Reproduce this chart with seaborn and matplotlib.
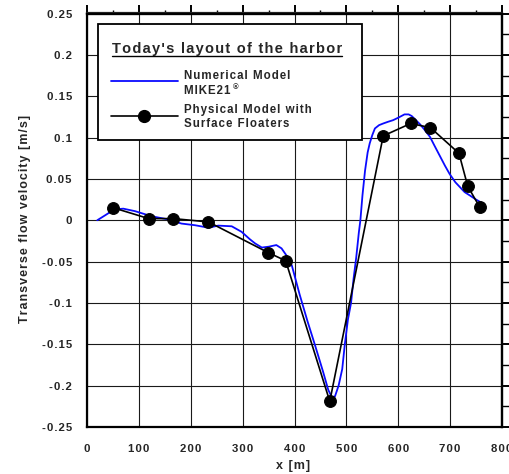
import numpy as np
import pandas as pd
import matplotlib
matplotlib.use("Agg")
import matplotlib.pyplot as plt
import seaborn as sns
from matplotlib.lines import Line2D
from matplotlib.patches import Rectangle
from matplotlib.ticker import MultipleLocator

# ---- data -------------------------------------------------------------
num_x = [19.8, 35, 47.5, 60, 70, 92.5, 124.6, 156.7, 182, 208, 234, 253, 279,
         298, 314, 324, 337, 350, 365, 375, 385, 395, 410, 425, 440, 455, 465,
         472, 478, 485, 492, 497, 503, 509, 514, 519, 524, 527, 531, 536, 541,
         545, 550, 555, 563, 571, 580, 590, 600, 612, 620, 626, 634, 642, 650,
         661, 670, 680, 690, 699, 710, 719, 728, 738, 750, 764]
num_y = [0.0, 0.006, 0.011, 0.0135, 0.014, 0.011, 0.0048, 0.001, -0.004,
         -0.006, -0.009, -0.0065, -0.0073, -0.014, -0.023, -0.028, -0.033,
         -0.032, -0.030, -0.034, -0.043, -0.055, -0.090, -0.122, -0.152,
         -0.183, -0.205, -0.214, -0.213, -0.200, -0.180, -0.150, -0.120,
         -0.100, -0.070, -0.045, -0.015, 0.0, 0.03, 0.06, 0.082, 0.093, 0.103,
         0.111, 0.115, 0.117, 0.119, 0.121, 0.124, 0.128, 0.128, 0.126, 0.121,
         0.116, 0.110, 0.101, 0.090, 0.078, 0.066, 0.056, 0.046, 0.040, 0.034,
         0.030, 0.025, 0.020]

phys_x = [51, 119, 166, 234, 349, 383, 468, 571, 624, 662, 717, 734, 757]
phys_y = [0.015, 0.002, 0.002, -0.002, -0.039, -0.049, -0.219, 0.102, 0.117,
          0.112, 0.081, 0.041, 0.016]

x_ticks = [0, 100, 200, 300, 400, 500, 600, 700, 800]
x_tick_labels = ["0", "100", "200", "300", "400", "500", "600", "700", "800"]
y_ticks = [-0.25, -0.2, -0.15, -0.1, -0.05, 0, 0.05, 0.1, 0.15, 0.2, 0.25]
y_tick_labels = ["-0.25", "-0.2", "-0.15", "-0.1", "-0.05", "0", "0.05",
                 "0.1", "0.15", "0.2", "0.25"]

legend_title = "Today's layout of the harbor"
num_label = ["Numerical Model", "MIKE21"]
phys_label = ["Physical Model with", "Surface Floaters"]
x_label = "x [m]"
y_label = "Transverse flow velocity [m/s]"

# ---- style ------------------------------------------------------------
sns.set_style("white")
plt.rcParams["font.family"] = ["Liberation Sans", "DejaVu Sans"]
plt.rcParams["font.weight"] = "bold"

HS = "\u200a"


def sp(s):
    return HS.join(s)


fig = plt.figure(figsize=(5.1, 4.74), dpi=100)
ax = fig.add_axes([87 / 510, 1 - 427 / 474, 415 / 510, 413.5 / 474])

df_num = pd.DataFrame({"x": num_x, "y": num_y})
df_phys = pd.DataFrame({"x": phys_x, "y": phys_y})

sns.lineplot(data=df_num, x="x", y="y", color="#0a0aff", lw=1.3, sort=False,
             estimator=None, ax=ax, zorder=3)
sns.lineplot(data=df_phys, x="x", y="y", color="black", lw=1.2, marker="o",
             markersize=8.5, markeredgecolor="black", markerfacecolor="black",
             sort=False, estimator=None, ax=ax, zorder=4)

ax.set_xlim(0, 800)
ax.set_ylim(-0.25, 0.25)
ax.set_xticks(x_ticks)
ax.set_xticklabels([sp(t) for t in x_tick_labels])
ax.set_yticks(y_ticks)
ax.set_yticklabels([sp(t) for t in y_tick_labels])
ax.xaxis.set_minor_locator(MultipleLocator(50))
ax.yaxis.set_minor_locator(MultipleLocator(0.025))
ax.grid(True, which="major", color="#1a1a1a", lw=0.8, zorder=1)

ax.tick_params(axis="y", which="major", direction="inout", length=10,
               width=1.4, pad=5.8, labelsize=8.2, color="black")
ax.tick_params(axis="y", which="minor", direction="inout", length=3,
               width=1.0, color="black")
ax.tick_params(axis="x", which="major", direction="inout", length=9,
               width=1.4, pad=7.5, labelsize=8.2, color="black")
ax.tick_params(axis="x", which="minor", direction="out", length=3,
               width=1.0, color="black")
for lab in ax.get_xticklabels() + ax.get_yticklabels():
    lab.set_fontweight("bold")

for s in ax.spines.values():
    s.set_linewidth(1.6)
    s.set_color("black")

top = ax.secondary_xaxis("top")
top.set_xticks(x_ticks)
top.xaxis.set_minor_locator(MultipleLocator(50))
top.tick_params(which="major", direction="out", length=5.5, width=1.4,
                labeltop=False, color="black")
top.tick_params(which="minor", direction="out", length=2.5, width=1.0,
                color="black")
top.set_xticklabels([])

right = ax.secondary_yaxis("right")
right.set_yticks(y_ticks)
right.yaxis.set_minor_locator(MultipleLocator(0.025))
right.tick_params(which="major", direction="out", length=6, width=1.4,
                  labelright=False, color="black")
right.tick_params(which="minor", direction="out", length=5, width=1.0,
                  color="black")
right.set_yticklabels([])
for a in (top, right):
    for s in a.spines.values():
        s.set_linewidth(1.6)

ax.set_xlabel(sp(x_label), fontsize=9, fontweight="bold")
ax.set_ylabel(sp(y_label), fontsize=9, fontweight="bold")
ax.xaxis.set_label_coords((292.7 - 87) / 415, (427 - 460.5) / 413.5)
ax.yaxis.set_label_coords((31 - 87) / 415, (427 - 219) / 413.5)


# ---- legend (drawn as a boxed key) -------------------------------------
def fx(px):
    return (px - 87) / 415


def fy(py):
    return (427 - py) / 413.5


T = ax.transAxes
ax.add_patch(Rectangle((fx(98.3), fy(140)), fx(361.7) - fx(98.3),
                       fy(24.3) - fy(140), transform=T, facecolor="white",
                       edgecolor="black", lw=1.3, zorder=6, clip_on=False))
title = ax.text(fx(111.7), fy(53.3), sp(legend_title), transform=T,
                fontsize=10.5, fontweight="bold", ha="left", va="baseline",
                zorder=7)
ax.add_line(Line2D([fx(111.7), fx(341.7)], [fy(55.6), fy(55.6)], transform=T,
                   color="black", lw=1.0, zorder=7))
ax.add_line(Line2D([fx(111), fx(178)], [fy(81), fy(81)], transform=T,
                   color="#0a0aff", lw=1.3, zorder=7))
ax.add_line(Line2D([fx(111), fx(178)], [fy(115.7), fy(115.7)], transform=T,
                   color="black", lw=1.2, zorder=7))
ax.add_line(Line2D([fx(144.3)], [fy(115.7)], transform=T, color="black",
                   marker="o", markersize=8.5, zorder=7))
lx = fx(184.3)
ax.text(lx, fy(78.7), sp(num_label[0]), transform=T, fontsize=8.3,
        fontweight="bold", va="baseline", zorder=7)
ax.text(lx, fy(94), sp(num_label[1]), transform=T, fontsize=8.3,
        fontweight="bold", va="baseline", zorder=7)
ax.text(fx(232.5), fy(89.5), "\u00ae", transform=T, fontsize=5.5,
        fontweight="bold", va="baseline", zorder=7)
ax.text(lx, fy(113.3), sp(phys_label[0]), transform=T, fontsize=8.3,
        fontweight="bold", va="baseline", zorder=7)
ax.text(lx, fy(126.7), sp(phys_label[1]), transform=T, fontsize=8.3,
        fontweight="bold", va="baseline", zorder=7)

fig.savefig("out.png", dpi=100)
